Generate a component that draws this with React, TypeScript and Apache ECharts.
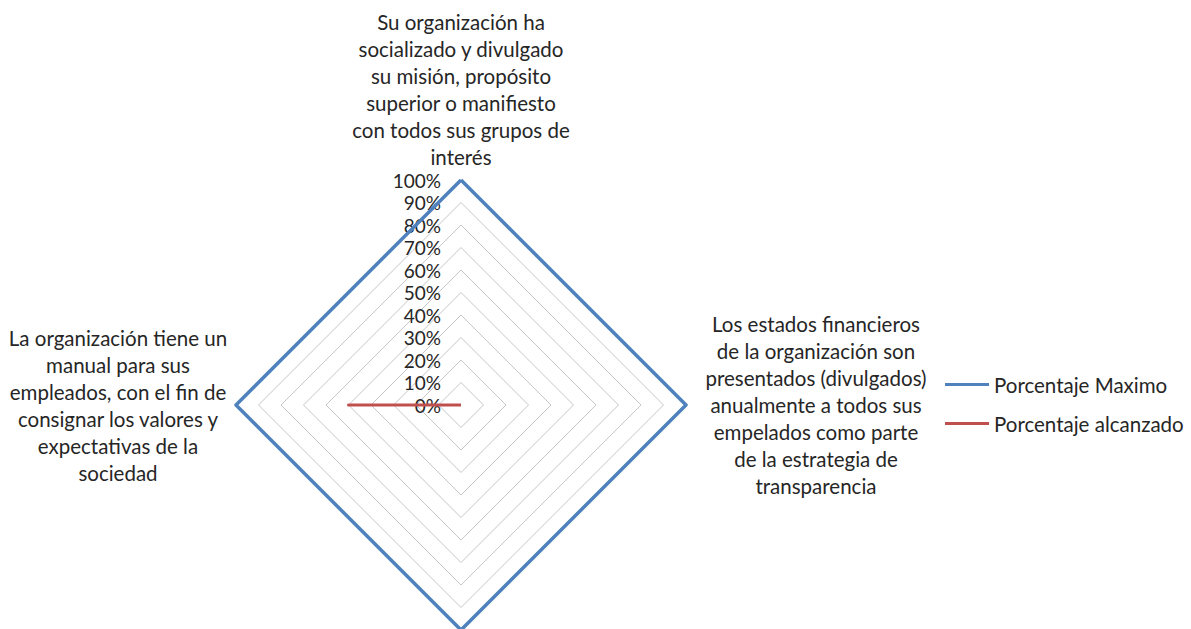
import React, { useEffect, useRef } from "react";
import * as echarts from "echarts";

// Indicators in ECharts order (top, left, bottom, right — counter-clockwise)
const indicatorNames: string[] = [
  "Su organización ha\nsocializado y divulgado\nsu misión, propósito\nsuperior o manifiesto\ncon todos sus grupos de\ninterés",
  "La organización tiene un\nmanual para sus\nempleados, con el fin de\nconsignar los valores y\nexpectativas de la\nsociedad",
  "",
  "Los estados financieros\nde la organización son\npresentados (divulgados)\nanualmente a todos sus\nempelados como parte\nde la estrategia de\ntransparencia",
];
const seriesNames: string[] = ["Porcentaje Maximo", "Porcentaje alcanzado"];
const maximoValues: number[] = [100, 100, 100, 100];
const alcanzadoValues: number[] = [0, 50, 0, 0];
const seriesColors: string[] = ["#4f81bd", "#c0504d"];

const FONT = "Lato";
const FS = 20.5;

export default function App() {
  const ref = useRef<HTMLDivElement>(null);
  useEffect(() => {
    document.body.style.margin = "0";
    const chart = echarts.init(ref.current!, null, { renderer: "svg" });
    const option: any = {
      animation: false,
      backgroundColor: "#ffffff",
      textStyle: { fontFamily: FONT },
      legend: {
        orient: "vertical",
        left: 940,
        top: 369,
        icon: "rect",
        itemWidth: 44,
        itemHeight: 3,
        itemGap: 18,
        data: seriesNames,
        textStyle: { fontFamily: FONT, fontSize: FS, color: "#262626", lineHeight: 20 },
      },
      radar: {
        center: [461, 405],
        radius: 225,
        startAngle: 90,
        shape: "polygon",
        splitNumber: 10,
        indicator: indicatorNames.map((n, i) => ({
          name: n,
          min: 0,
          max: 100,
          axisLabel:
            i === 0
              ? {
                  show: true,
                  fontFamily: FONT,
                  fontSize: 19,
                  margin: 20,
                  color: "#262626",
                  formatter: (v: number) => v + "%",
                }
              : { show: false },
        })),
        axisName: {
          color: "#262626",
          fontFamily: FONT,
          fontSize: FS,
          lineHeight: 27,
          formatter: (name: string) => {
            const idx = indicatorNames.indexOf(name);
            const tag = idx === 1 ? "l" : idx === 3 ? "r" : "t";
            return name
              .split("\n")
              .map((s) => `{${tag}|${s}}`)
              .join("\n");
          },
          rich: {
            t: { fontFamily: FONT, fontSize: FS, lineHeight: 27, color: "#262626", align: "center" },
            l: { fontFamily: FONT, fontSize: FS, lineHeight: 27, color: "#262626", width: 216, align: "center" },
            r: { fontFamily: FONT, fontSize: FS, lineHeight: 27, color: "#262626", width: 240, align: "center" },
          },
        },
        nameGap: 10,
        axisLine: { show: false },
        axisTick: { show: false },
        axisLabel: { show: false },
        splitLine: { lineStyle: { color: "#c6c6c6", width: 1 } },
        splitArea: { show: false },
      },
      series: [
        {
          type: "radar",
          symbol: "none",
          data: [
            {
              name: seriesNames[0],
              value: maximoValues,
              lineStyle: { color: seriesColors[0], width: 3.5 },
              itemStyle: { color: seriesColors[0] },
            },
            {
              name: seriesNames[1],
              value: alcanzadoValues,
              lineStyle: { color: seriesColors[1], width: 3 },
              itemStyle: { color: seriesColors[1] },
            },
          ],
        },
      ],
    };
    chart.setOption(option);
    return () => chart.dispose();
  }, []);
  return <div ref={ref} style={{ width: 1191, height: 629 }} />;
}
